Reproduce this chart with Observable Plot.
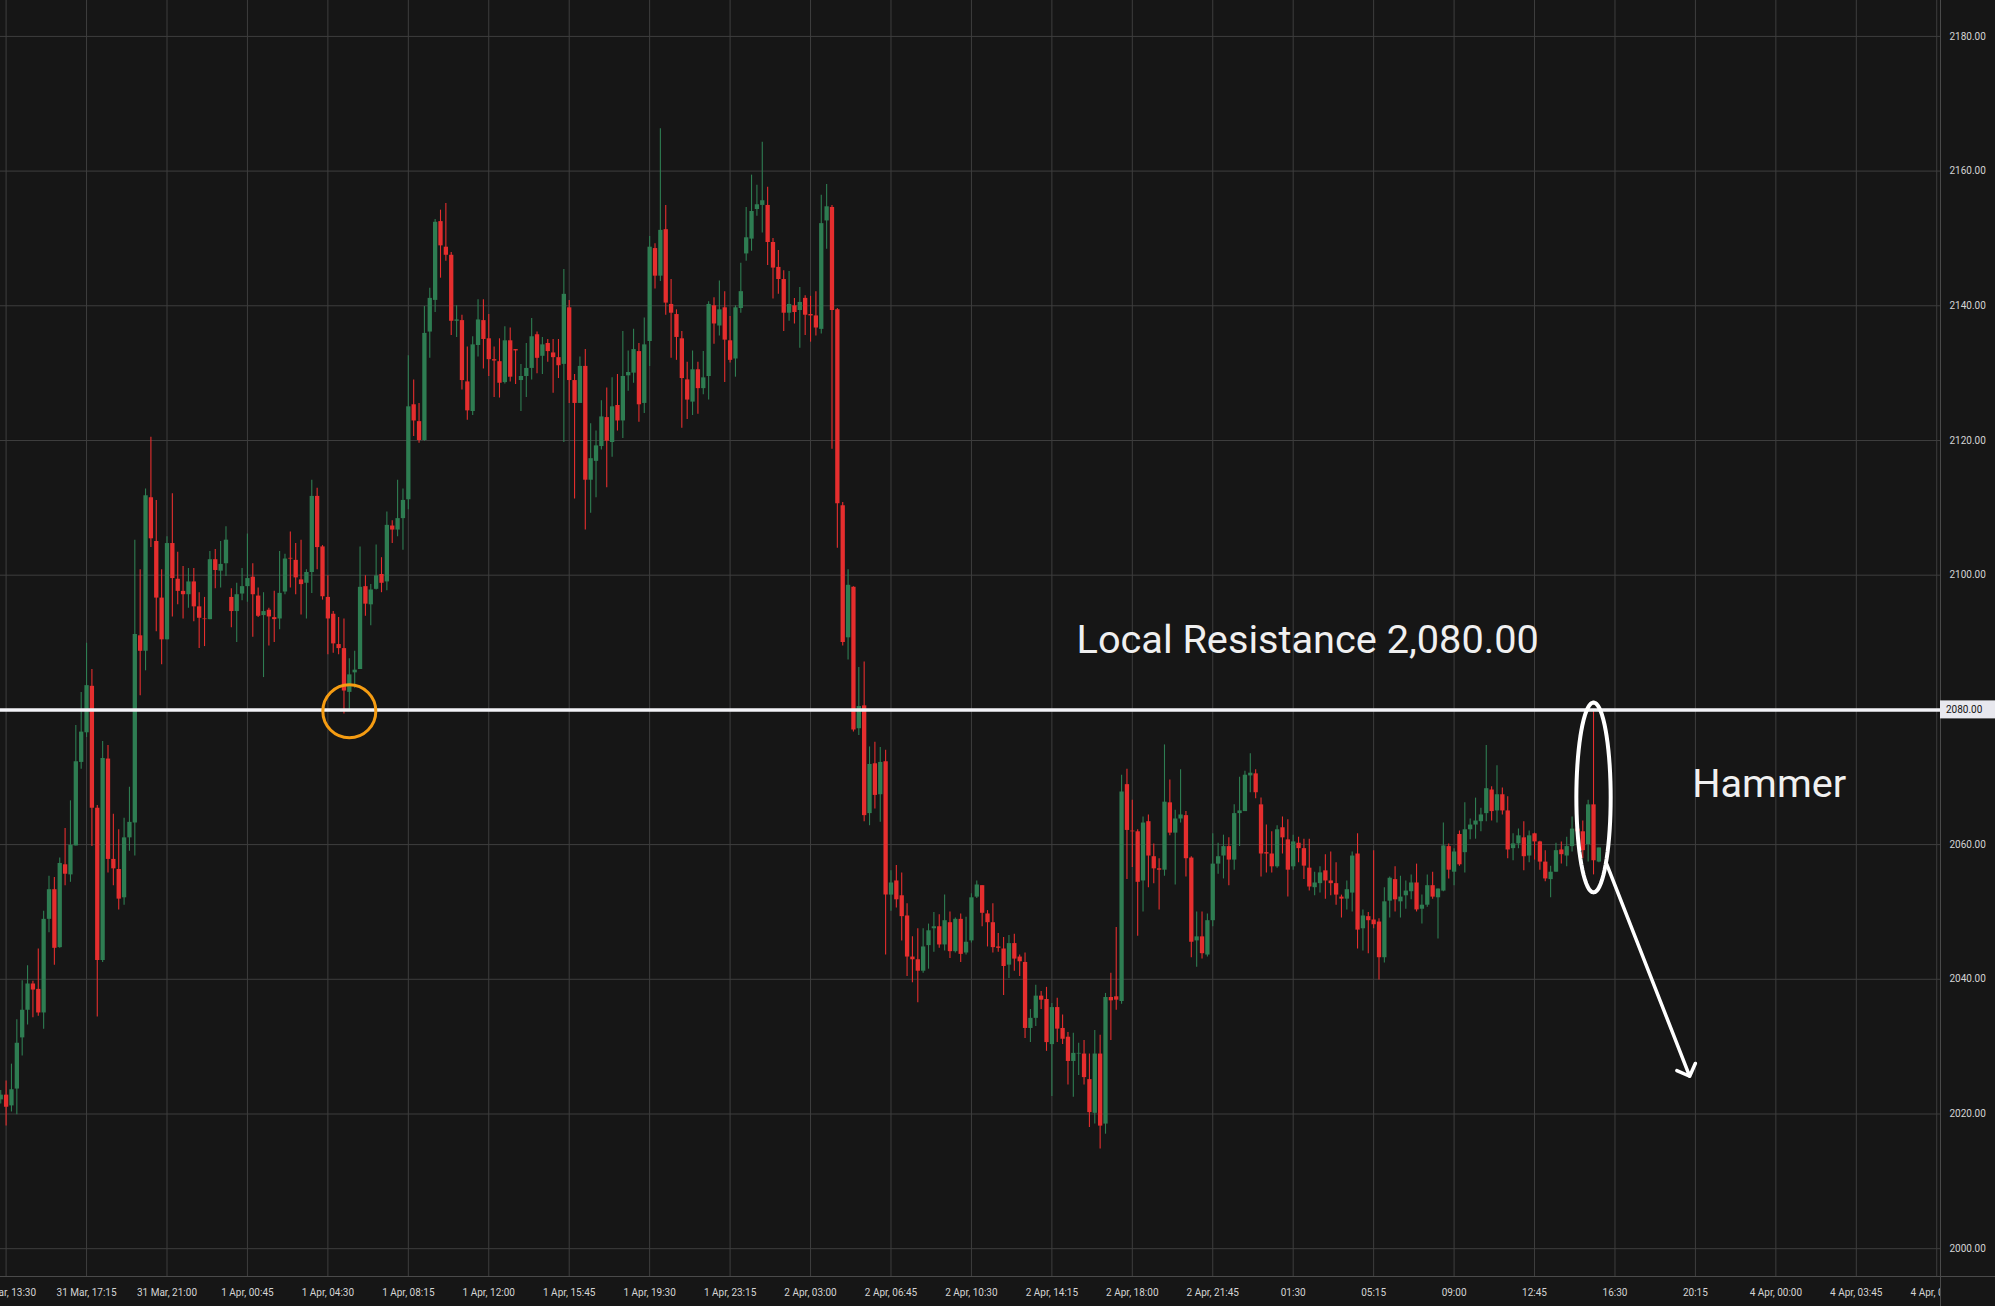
<!DOCTYPE html>
<html><head><meta charset="utf-8">
<script src="https://cdn.jsdelivr.net/npm/d3@7"></script>
<script src="https://cdn.jsdelivr.net/npm/@observablehq/plot@0.6"></script>
<style>
html,body{margin:0;padding:0;background:#161616;overflow:hidden}
#chart{width:1995px;height:1306px}
</style></head><body><div id="chart"></div>
<script>
// ---- data: 15-minute candles, first one at 31 Mar 13:15 (UTC) ----
const firstCandle = "2025-03-31T13:15:00Z";
const candleMinutes = 15;
const opens = [2022.1,2022.8,2021.2,2023.7,2031.3,2035.4,2039.3,2038.5,2035.0,2048.9,2053.3,2044.7,2057.0,2055.5,2059.8,2072.2,2076.6,2083.5,2065.4,2042.8,2072.7,2057.8,2056.3,2052.1,2061.0,2063.2,2091.0,2088.7,2111.5,2105.0,2096.6,2090.4,2104.7,2099.4,2097.6,2097.1,2099.0,2095.3,2093.5,2093.4,2102.3,2100.6,2101.7,2096.7,2094.6,2097.2,2098.3,2099.7,2096.9,2094.0,2094.8,2093.7,2093.5,2097.5,2102.5,2102.2,2099.3,2098.8,2100.4,2111.7,2104.2,2096.7,2094.2,2089.7,2089.1,2082.6,2085.5,2086.0,2098.3,2095.6,2097.9,2100.1,2099.0,2107.3,2106.7,2108.4,2111.2,2125.3,2122.8,2120.0,2136.1,2140.8,2152.5,2148.7,2147.5,2137.7,2137.8,2128.7,2124.3,2134.1,2137.8,2135.1,2132.0,2131.7,2128.6,2134.8,2133.5,2128.9,2129.5,2130.7,2135.7,2132.5,2134.4,2133.0,2132.3,2131.3,2139.7,2128.9,2125.5,2131.0,2114.1,2116.9,2119.1,2123.4,2119.7,2125.2,2122.9,2129.6,2130.0,2133.2,2125.5,2134.7,2148.5,2144.4,2151.3,2140.2,2138.7,2135.1,2129.0,2125.7,2130.5,2127.7,2129.5,2140.0,2137.0,2139.7,2134.8,2132.1,2139.6,2147.7,2149.9,2154.3,2154.9,2154.9,2149.4,2145.7,2143.9,2138.9,2140.0,2139.3,2141.1,2138.7,2138.5,2136.5,2152.6,2154.6,2139.4,2110.3,2090.7,2098.2,2077.2,2080.6,2064.6,2072.0,2067.4,2072.3,2052.5,2054.6,2052.4,2049.4,2043.3,2042.9,2041.2,2045.0,2047.5,2047.8,2045.1,2048.4,2044.1,2048.9,2043.9,2045.7,2052.2,2053.9,2049.7,2048.4,2044.8,2044.5,2042.1,2045.3,2043.3,2042.5,2032.7,2034.2,2037.5,2037.0,2030.3,2035.8,2032.7,2031.4,2027.8,2028.9,2028.9,2025.1,2020.1,2028.9,2018.5,2037.3,2037.4,2036.7,2068.9,2062.0,2061.9,2054.6,2063.4,2058.2,2056.4,2056.2,2066.2,2061.7,2063.8,2064.3,2058.0,2045.7,2046.3,2043.6,2048.7,2057.1,2058.3,2059.7,2057.7,2064.6,2064.9,2070.2,2070.5,2065.9,2058.8,2058.6,2056.7,2062.5,2060.7,2056.7,2060.2,2059.4,2056.5,2053.6,2054.2,2056.1,2054.6,2054.2,2052.2,2051.9,2052.8,2058.6,2047.5,2049.3,2048.8,2048.5,2043.2,2051.6,2054.8,2051.5,2052.4,2053.0,2054.3,2050.4,2051.0,2053.9,2052.1,2053.1,2059.7,2055.9,2061.5,2058.8,2062.2,2062.9,2063.4,2064.6,2068.1,2065.0,2067.4,2065.0,2059.4,2060.1,2061.0,2058.3,2061.6,2060.4,2057.4,2054.8,2055.9,2059.2,2058.3,2059.7,2062.3,2061.9,2060.0,2065.9,2057.4];
const highs = [2023.5,2024.9,2027.4,2034.0,2039.8,2042.0,2039.7,2044.5,2050.1,2055.3,2055.1,2058.0,2062.4,2066.5,2077.7,2082.6,2089.9,2086.0,2065.8,2075.3,2074.7,2064.5,2062.2,2063.9,2068.5,2105.2,2100.8,2112.8,2120.5,2111.1,2100.8,2105.7,2112.1,2103.4,2101.3,2101.0,2101.0,2097.4,2096.7,2103.5,2103.8,2105.0,2107.2,2098.0,2098.8,2101.0,2106.1,2101.7,2098.1,2097.4,2095.1,2097.6,2103.5,2103.1,2106.4,2104.7,2105.2,2100.8,2114.1,2112.9,2104.4,2099.9,2094.6,2093.7,2093.5,2087.6,2088.7,2104.2,2099.9,2098.6,2104.5,2102.6,2109.4,2108.1,2114.1,2112.8,2132.6,2129.0,2125.5,2139.9,2142.6,2152.8,2154.2,2155.2,2147.9,2140.0,2138.6,2133.9,2135.4,2140.9,2140.9,2138.7,2133.9,2135.1,2136.9,2136.7,2133.5,2131.3,2134.4,2138.1,2136.1,2135.3,2135.0,2135.0,2135.0,2145.4,2140.8,2129.8,2132.4,2133.5,2122.5,2121.4,2125.9,2127.8,2129.3,2129.8,2136.2,2133.3,2136.5,2134.4,2138.2,2150.3,2149.2,2166.3,2154.9,2143.9,2139.4,2136.2,2131.6,2133.3,2131.6,2133.2,2140.6,2141.2,2143.7,2142.1,2138.4,2140.0,2146.3,2154.6,2159.4,2157.9,2164.3,2157.6,2150.0,2148.2,2145.2,2145.1,2141.1,2142.7,2141.5,2141.4,2142.1,2156.4,2158.0,2154.9,2139.6,2110.8,2100.8,2098.3,2086.3,2087.1,2074.5,2075.2,2074.4,2074.0,2056.1,2056.9,2055.8,2051.2,2046.3,2047.5,2047.5,2048.2,2049.9,2049.6,2052.5,2050.0,2049.1,2049.7,2049.2,2052.7,2054.6,2053.9,2050.2,2051.2,2046.8,2046.2,2046.5,2046.7,2043.6,2043.9,2035.5,2039.1,2038.2,2038.8,2036.4,2037.2,2034.7,2032.1,2032.0,2030.5,2030.9,2028.9,2032.4,2031.7,2037.9,2040.9,2047.7,2070.3,2071.2,2066.6,2062.2,2064.1,2064.4,2060.1,2057.9,2074.8,2069.6,2065.1,2071.1,2064.9,2058.2,2050.0,2050.0,2049.7,2061.6,2060.2,2061.4,2061.0,2065.9,2070.0,2070.9,2073.5,2071.1,2066.9,2062.9,2061.9,2062.8,2064.1,2063.7,2061.4,2061.1,2060.8,2060.8,2055.9,2056.7,2058.5,2058.9,2057.3,2052.5,2054.6,2058.9,2061.6,2050.3,2049.9,2059.1,2049.0,2053.6,2055.2,2056.7,2055.3,2054.6,2055.5,2057.1,2052.5,2055.5,2055.9,2053.4,2063.2,2060.1,2059.4,2062.0,2066.2,2063.8,2066.9,2065.4,2074.7,2068.6,2071.7,2068.4,2067.1,2061.6,2062.3,2063.4,2062.0,2061.7,2060.5,2059.1,2056.8,2060.2,2060.4,2061.1,2064.1,2062.5,2063.5,2066.6,2079.9,2059.5];
const lows = [2021.5,2018.2,2020.3,2019.9,2028.6,2033.2,2034.3,2034.5,2032.6,2046.9,2042.1,2044.6,2053.9,2054.4,2059.8,2071.2,2075.9,2059.7,2034.4,2042.5,2055.8,2053.9,2050.3,2051.0,2059.0,2058.3,2082.1,2085.8,2104.1,2091.6,2086.7,2090.4,2093.8,2095.6,2093.5,2095.1,2093.1,2089.1,2089.4,2093.4,2098.0,2098.1,2099.8,2092.2,2090.0,2096.2,2096.0,2090.8,2093.7,2084.8,2089.5,2090.0,2091.9,2097.1,2098.1,2097.1,2094.1,2093.5,2097.3,2100.8,2096.3,2088.2,2088.4,2088.2,2079.4,2080.1,2083.2,2086.0,2093.9,2092.5,2097.8,2097.4,2097.7,2104.7,2105.7,2103.7,2109.7,2120.6,2119.6,2119.9,2132.2,2139.0,2144.1,2146.6,2135.6,2135.3,2127.5,2123.0,2123.7,2132.4,2130.6,2129.5,2126.4,2126.3,2128.4,2128.7,2128.3,2124.3,2126.4,2129.0,2129.9,2129.8,2131.6,2127.0,2129.2,2119.7,2125.5,2111.3,2125.5,2106.7,2109.2,2111.5,2118.6,2113.0,2117.5,2121.4,2120.3,2127.3,2128.5,2122.7,2124.0,2131.0,2142.5,2143.6,2138.6,2132.2,2131.9,2121.8,2123.1,2123.7,2123.9,2126.8,2126.0,2134.3,2135.5,2128.6,2131.5,2129.4,2138.9,2146.6,2148.1,2153.3,2150.8,2146.0,2141.0,2141.7,2136.2,2137.7,2137.3,2133.7,2135.6,2134.6,2135.5,2135.8,2148.4,2118.7,2104.0,2089.5,2087.4,2076.7,2076.2,2063.4,2062.8,2065.3,2063.3,2043.6,2050.1,2050.6,2045.7,2040.4,2039.5,2036.5,2040.9,2041.5,2044.0,2044.6,2044.2,2043.1,2043.9,2042.5,2043.6,2045.4,2052.0,2047.8,2044.8,2043.9,2044.0,2037.6,2040.1,2041.2,2040.4,2031.2,2030.6,2033.0,2035.5,2029.3,2022.6,2030.6,2030.3,2024.3,2022.5,2025.7,2024.3,2018.0,2018.5,2014.8,2017.0,2030.9,2035.4,2036.3,2054.8,2056.6,2046.4,2050.0,2053.6,2054.2,2050.3,2055.3,2061.3,2054.0,2063.2,2055.2,2043.2,2041.8,2043.0,2043.3,2047.8,2055.6,2054.9,2053.9,2056.2,2059.7,2064.9,2067.7,2066.8,2055.2,2055.8,2055.8,2056.5,2058.6,2052.2,2056.2,2057.3,2054.8,2053.1,2052.4,2052.8,2051.9,2052.4,2051.0,2049.1,2050.3,2050.0,2044.5,2044.2,2043.8,2047.5,2039.9,2042.4,2049.1,2050.0,2049.1,2050.4,2051.8,2050.0,2048.2,2050.7,2051.9,2046.0,2053.0,2054.9,2053.9,2056.8,2055.8,2060.7,2060.8,2061.9,2063.4,2063.5,2063.2,2064.4,2057.9,2057.6,2059.4,2056.1,2057.3,2057.7,2056.2,2054.5,2052.1,2055.9,2057.1,2056.7,2058.9,2060.5,2057.9,2057.4,2055.5,2057.3];
const closes = [2022.8,2021.0,2023.6,2030.5,2035.4,2039.3,2038.4,2035.0,2048.9,2053.3,2044.6,2057.2,2055.6,2059.9,2072.3,2076.7,2083.6,2065.4,2042.8,2072.8,2057.8,2056.4,2051.9,2061.0,2063.3,2091.2,2088.7,2111.8,2105.4,2096.6,2090.4,2104.7,2099.5,2097.6,2097.1,2099.0,2095.3,2093.6,2093.4,2102.3,2100.7,2101.6,2105.2,2094.6,2097.1,2098.3,2099.5,2097.1,2093.9,2094.6,2093.8,2093.4,2097.3,2102.4,2102.4,2099.6,2098.6,2100.4,2111.7,2104.1,2096.8,2093.5,2089.8,2089.1,2082.8,2085.2,2085.9,2098.2,2095.7,2097.8,2099.9,2098.8,2107.4,2106.7,2108.4,2111.1,2125.0,2122.9,2120.0,2135.9,2141.1,2152.4,2148.9,2147.5,2137.7,2137.9,2128.9,2124.4,2134.2,2137.9,2135.0,2132.0,2131.8,2128.5,2134.8,2129.4,2133.3,2129.5,2130.7,2135.4,2132.2,2134.2,2133.2,2132.3,2131.1,2141.7,2128.9,2125.5,2131.0,2114.1,2117.3,2119.2,2123.5,2119.9,2125.0,2122.9,2129.5,2130.1,2133.5,2125.3,2134.2,2148.7,2144.4,2151.2,2140.4,2138.9,2135.3,2129.2,2126.0,2130.5,2127.7,2129.3,2140.2,2137.3,2139.4,2134.9,2131.9,2139.7,2142.1,2150.1,2154.0,2155.0,2155.6,2149.4,2145.6,2143.9,2138.9,2140.2,2139.0,2140.5,2138.6,2138.5,2136.7,2152.2,2154.7,2139.3,2110.6,2090.0,2098.5,2077.0,2080.5,2064.3,2071.9,2067.3,2072.2,2052.5,2054.3,2051.8,2049.3,2043.3,2042.9,2041.2,2044.8,2047.2,2047.8,2045.1,2048.7,2044.1,2048.9,2043.7,2045.5,2052.1,2054.0,2049.8,2048.4,2044.7,2044.6,2041.9,2045.3,2043.0,2042.6,2032.7,2034.2,2037.5,2036.9,2030.6,2035.8,2032.6,2031.1,2027.8,2029.0,2029.0,2025.4,2020.2,2028.9,2018.2,2037.3,2036.8,2036.9,2067.8,2062.1,2061.9,2054.4,2063.2,2058.3,2056.4,2056.2,2066.3,2061.7,2063.8,2064.4,2057.9,2045.5,2046.3,2043.8,2048.7,2057.1,2058.2,2059.7,2057.7,2064.6,2065.0,2070.3,2070.6,2067.7,2058.6,2058.6,2056.7,2062.2,2061.0,2056.2,2060.4,2059.4,2056.8,2053.7,2054.3,2055.8,2054.6,2054.2,2052.5,2051.9,2053.3,2058.3,2047.3,2049.4,2048.7,2048.1,2043.2,2051.5,2055.0,2051.8,2052.2,2053.1,2054.3,2050.3,2051.0,2053.9,2052.2,2053.4,2059.8,2056.2,2058.9,2057.0,2062.2,2062.9,2063.5,2064.4,2068.3,2064.9,2067.4,2065.0,2059.2,2060.1,2061.3,2058.2,2061.3,2060.4,2057.4,2054.9,2055.9,2059.1,2058.5,2059.7,2062.3,2061.9,2059.1,2065.9,2057.6,2059.5];

// ---- axes ----
const yTicks = [2000, 2020, 2040, 2060, 2080, 2100, 2120, 2140, 2160, 2180];
const xTickTimes = ["2025-03-31T13:30Z","2025-03-31T17:15Z","2025-03-31T21:00Z","2025-04-01T00:45Z","2025-04-01T04:30Z","2025-04-01T08:15Z","2025-04-01T12:00Z","2025-04-01T15:45Z","2025-04-01T19:30Z","2025-04-01T23:15Z","2025-04-02T03:00Z","2025-04-02T06:45Z","2025-04-02T10:30Z","2025-04-02T14:15Z","2025-04-02T18:00Z","2025-04-02T21:45Z","2025-04-03T01:30Z","2025-04-03T05:15Z","2025-04-03T09:00Z","2025-04-03T12:45Z","2025-04-03T16:30Z","2025-04-03T20:15Z","2025-04-04T00:00Z","2025-04-04T03:45Z","2025-04-04T07:30Z"];
const xTickLabels = ["31 Mar, 13:30","31 Mar, 17:15","31 Mar, 21:00","1 Apr, 00:45","1 Apr, 04:30","1 Apr, 08:15","1 Apr, 12:00","1 Apr, 15:45","1 Apr, 19:30","1 Apr, 23:15","2 Apr, 03:00","2 Apr, 06:45","2 Apr, 10:30","2 Apr, 14:15","2 Apr, 18:00","2 Apr, 21:45","01:30","05:15","09:00","12:45","16:30","20:15","4 Apr, 00:00","4 Apr, 03:45","4 Apr, 07:30"];
const xDomain = ["2025-03-31T13:14:20Z", "2025-04-04T07:40:30Z"];
const yDomain = [1995.87, 2185.33];

// ---- annotations ----
const resistanceLevel = 2080;
const resistanceText = "Local Resistance 2,080.00";
const hammerText = "Hammer";
const supportTouch = [{time: "2025-04-01T05:30Z", price: 2079.8}];
const hammerCandle = {time: "2025-04-03T15:30Z", price: 2067.0, halfMinutes: 48, halfPrice: 14.1};
const arrowMove = [{t1: "2025-04-03T16:06Z", p1: 2057.2, t2: "2025-04-03T19:59Z", p2: 2025.6}];
const labels = [
  {time: "2025-04-02T15:24Z", price: 2090.3, text: resistanceText},
  {time: "2025-04-03T20:06Z", price: 2068.9, text: hammerText}
];

const GREEN = "#2e7d52", RED = "#e52e2e", GRID = "#3e3e3e", AXISLINE = "#4a4a4a", TXT = "#d4d4d4";

const t0 = new Date(firstCandle).getTime();
const candles = opens.map((o, i) => ({
  date: new Date(t0 + i * candleMinutes * 60000),
  open: o, high: highs[i], low: lows[i], close: closes[i],
  color: closes[i] >= o ? GREEN : RED
}));
const xTickDates = xTickTimes.map(s => new Date(s));
const labelByTime = new Map(xTickDates.map((d, i) => [+d, xTickLabels[i]]));

const hc = new Date(hammerCandle.time).getTime();
const ellipse = d3.range(0, 73).map(k => {
  const a = k / 72 * 2 * Math.PI;
  return {date: new Date(hc + Math.cos(a) * hammerCandle.halfMinutes * 60000),
          price: hammerCandle.price + Math.sin(a) * hammerCandle.halfPrice};
});

const plot = Plot.plot({
  width: 1995, height: 1306,
  marginLeft: 0, marginTop: 0, marginRight: 55, marginBottom: 30,
  style: {background: "#161616", color: TXT, fontFamily: "Roboto, 'Liberation Sans', sans-serif", fontSize: "10px"},
  x: {type: "utc", domain: xDomain.map(s => new Date(s))},
  y: {domain: yDomain},
  color: {type: "identity"},
  marks: [
    Plot.ruleY(yTicks, {stroke: GRID, strokeWidth: 1}),
    Plot.ruleX(xTickDates, {stroke: GRID, strokeWidth: 1}),
    Plot.ruleX(candles, {x: "date", y1: "low", y2: "high", stroke: "color", strokeWidth: 1.1}),
    Plot.ruleX(candles, {x: "date", y1: "open", y2: "close", stroke: "color", strokeWidth: 4.3}),
    Plot.ruleY([resistanceLevel], {stroke: "#f3f3f7", strokeWidth: 3.5}),
    Plot.dot(supportTouch, {x: d => new Date(d.time), y: "price", r: 26.5, stroke: "#f59c12", strokeWidth: 3, fill: "none"}),
    Plot.line(ellipse, {x: "date", y: "price", stroke: "#ffffff", strokeWidth: 4, curve: "linear"}),
    Plot.arrow(arrowMove, {x1: d => new Date(d.t1), y1: "p1", x2: d => new Date(d.t2), y2: "p2",
      stroke: "#ffffff", strokeWidth: 3.5, headLength: 6, headAngle: 90}),
    Plot.text(labels, {x: d => new Date(d.time), y: "price", text: "text", textAnchor: "start", lineAnchor: "middle",
      fontSize: 39.7, fontFamily: "Roboto, sans-serif", fill: "#f0f0f0"}),
    Plot.axisY({anchor: "right", ticks: yTicks.filter(v => v !== resistanceLevel), tickFormat: d => d.toFixed(2),
      tickSize: 0, tickPadding: 9, fontSize: 10, fill: TXT, label: null}),
    Plot.axisX({anchor: "bottom", ticks: xTickDates, tickFormat: d => labelByTime.get(+d),
      tickSize: 0, tickPadding: 12, fontSize: 10, fill: TXT, label: null})
  ]
});

document.getElementById("chart").appendChild(plot);

// frame lines, price tag and axis clipping, placed with Plot's own scales
const svg = d3.select(plot);
const xs = plot.scale("x"), ys = plot.scale("y");
const right = Math.max(...xs.range), bottom = Math.max(...ys.range);
const defs = svg.append("defs");
defs.append("clipPath").attr("id", "xclip").append("rect")
  .attr("x", -10).attr("y", 0).attr("width", right + 10).attr("height", 1306);
svg.selectAll("g[aria-label='x-axis tick label']").attr("clip-path", "url(#xclip)");
svg.append("line").attr("x1", 0).attr("x2", 1995).attr("y1", bottom + 0.5).attr("y2", bottom + 0.5)
  .attr("stroke", AXISLINE).attr("stroke-width", 1);
svg.append("line").attr("x1", right + 0.5).attr("x2", right + 0.5).attr("y1", 0).attr("y2", 1306)
  .attr("stroke", AXISLINE).attr("stroke-width", 1);
const yr = ys.apply(resistanceLevel);
svg.append("rect").attr("x", right).attr("y", yr - 9).attr("width", 1995 - right).attr("height", 18)
  .attr("fill", "#e8e8ee");
svg.append("text").attr("x", right + 6).attr("y", yr).attr("dy", "0.35em")
  .attr("text-anchor", "start")
  .attr("fill", "#161616").attr("font-size", 10).attr("font-family", "Roboto, sans-serif")
  .text(resistanceLevel.toFixed(2));
</script></body></html>
